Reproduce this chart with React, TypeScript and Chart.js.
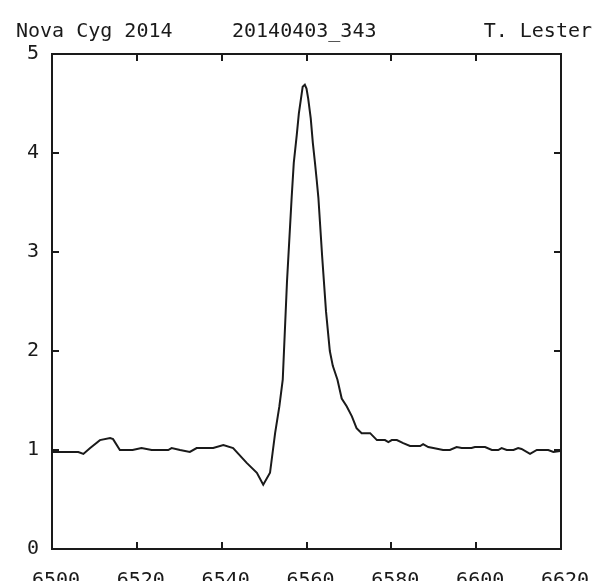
import { useEffect, useRef } from 'react';
import { Chart, registerables } from 'chart.js';

Chart.register(...registerables);

// Wavelength samples (Angstrom) and relative flux around H-alpha
const wavelengths = [
  6500.0, 6506.2, 6507.4, 6509.0, 6511.3, 6513.7, 6514.4, 6516.0, 6519.0, 6521.1,
  6523.5, 6527.4, 6528.2, 6530.2, 6532.5, 6534.1, 6538.0, 6540.4, 6542.7, 6545.9,
  6548.3, 6549.8, 6551.4, 6552.6, 6553.6, 6554.4, 6555.4, 6556.5, 6557.0, 6557.7,
  6558.2, 6558.7, 6559.1, 6559.6, 6560.0, 6560.4, 6561.0, 6561.5, 6562.0, 6562.4,
  6562.8, 6563.7, 6564.6, 6565.5, 6566.2, 6567.3, 6568.3, 6569.5, 6570.7, 6571.8,
  6573.0, 6575.0, 6576.6, 6578.5, 6579.3, 6580.1, 6581.3, 6582.8, 6584.4, 6586.8,
  6587.5, 6588.7, 6589.9, 6592.2, 6593.8, 6595.4, 6596.6, 6598.9, 6599.7, 6602.1,
  6603.7, 6605.2, 6606.0, 6607.2, 6608.8, 6609.9, 6610.7, 6612.7, 6614.3, 6617.0,
  6618.2, 6619.8,
];
const flux = [
  0.98, 0.98, 0.96, 1.02, 1.10, 1.12, 1.11, 1.00, 1.00, 1.02,
  1.00, 1.00, 1.02, 1.00, 0.98, 1.02, 1.02, 1.05, 1.02, 0.87,
  0.77, 0.65, 0.77, 1.17, 1.44, 1.71, 2.70, 3.55, 3.90, 4.18,
  4.40, 4.55, 4.67, 4.69, 4.65, 4.55, 4.35, 4.10, 3.90, 3.73,
  3.55, 2.95, 2.40, 2.00, 1.85, 1.71, 1.52, 1.44, 1.34, 1.22,
  1.17, 1.17, 1.10, 1.10, 1.08, 1.10, 1.10, 1.07, 1.04, 1.04,
  1.06, 1.03, 1.02, 1.00, 1.00, 1.03, 1.02, 1.02, 1.03, 1.03,
  1.00, 1.00, 1.02, 1.00, 1.00, 1.02, 1.01, 0.96, 1.00, 1.00,
  0.98, 0.99,
];

const xTicks = [6500, 6520, 6540, 6560, 6580, 6600, 6620];
const yTicks = [0, 1, 2, 3, 4, 5];

const titleLeft = 'Nova Cyg 2014';
const titleCenter = '20140403_343';
const titleRight = 'T. Lester';

const FONT = '"DejaVu Sans Mono", "Liberation Mono", monospace';
const INK = '#1a1a1a';

// Box around the plot with short inward ticks on all four sides
const framePlugin = {
  id: 'frame',
  afterDatasetsDraw(chart: any) {
    const { ctx, chartArea: a, scales } = chart;
    const xs = scales.x;
    const ys = scales.y;
    const len = 7;
    ctx.save();
    ctx.strokeStyle = INK;
    ctx.lineWidth = 2;
    ctx.strokeRect(a.left, a.top, a.right - a.left, a.bottom - a.top);
    ctx.beginPath();
    xTicks.forEach((v) => {
      const px = Math.round(xs.getPixelForValue(v));
      ctx.moveTo(px, a.bottom);
      ctx.lineTo(px, a.bottom - len);
      ctx.moveTo(px, a.top);
      ctx.lineTo(px, a.top + len);
    });
    yTicks.forEach((v) => {
      const py = Math.round(ys.getPixelForValue(v));
      ctx.moveTo(a.left, py);
      ctx.lineTo(a.left + len, py);
      ctx.moveTo(a.right, py);
      ctx.lineTo(a.right - len, py);
    });
    ctx.stroke();
    ctx.restore();
  },
};

// Three-part header line above the plot
const headerPlugin = {
  id: 'header',
  afterDraw(chart: any) {
    const { ctx } = chart;
    ctx.save();
    ctx.fillStyle = INK;
    ctx.font = `20px ${FONT}`;
    ctx.textBaseline = 'alphabetic';
    ctx.textAlign = 'left';
    ctx.fillText(titleLeft, 16, 37);
    ctx.fillText(titleCenter, 232, 37);
    ctx.textAlign = 'right';
    ctx.fillText(titleRight, 592, 37);
    ctx.restore();
  },
};

export default function App() {
  const canvasRef = useRef<HTMLCanvasElement | null>(null);

  useEffect(() => {
    const canvas = canvasRef.current;
    if (!canvas) return;
    const points = wavelengths.map((w, i) => ({ x: w, y: flux[i] }));
    const chart = new Chart(canvas, {
      type: 'line',
      data: {
        datasets: [
          {
            data: points,
            borderColor: INK,
            borderWidth: 2,
            pointRadius: 0,
            tension: 0,
            fill: false,
          },
        ],
      },
      options: {
        animation: false,
        responsive: false,
        devicePixelRatio: 1,
        layout: { padding: { top: 54, right: 45, left: 0, bottom: 0 } },
        plugins: {
          legend: { display: false },
          tooltip: { enabled: false },
          title: { display: false },
        },
        scales: {
          x: {
            type: 'linear',
            min: 6500,
            max: 6620,
            grid: { display: false },
            border: { display: false },
            afterBuildTicks: (s: any) => {
              s.ticks = xTicks.map((v) => ({ value: v }));
            },
            afterFit: (s: any) => {
              s.height = 32;
            },
            ticks: {
              padding: 12,
              labelOffset: 4,
              maxRotation: 0,
              autoSkip: false,
              color: INK,
              font: { family: FONT, size: 20 },
              callback: (v: any) => String(v),
            },
          },
          y: {
            type: 'linear',
            min: 0,
            max: 5,
            grid: { display: false },
            border: { display: false },
            afterBuildTicks: (s: any) => {
              s.ticks = yTicks.map((v) => ({ value: v }));
            },
            afterFit: (s: any) => {
              s.width = 52;
            },
            ticks: {
              padding: 5,
              color: INK,
              font: { family: FONT, size: 20 },
              callback: (v: any) => String(v),
            },
          },
        },
      },
      plugins: [framePlugin, headerPlugin],
    });
    return () => chart.destroy();
  }, []);

  return (
    <div style={{ position: 'fixed', left: 0, top: 0, width: 606, height: 581, background: '#fff' }}>
      <canvas ref={canvasRef} width={606} height={581} style={{ display: 'block' }} />
    </div>
  );
}
